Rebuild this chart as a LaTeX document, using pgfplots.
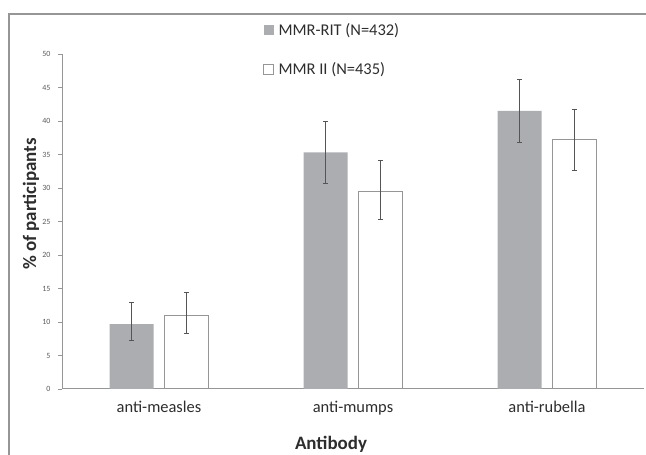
\documentclass[border=0pt]{standalone}
\usepackage{pgfplots}
\pgfplotsset{compat=1.18}
\usepackage{fontspec}
\setmainfont{Carlito}
\definecolor{barg}{RGB}{171,173,176}
\definecolor{framec}{RGB}{150,150,150}
\definecolor{axc}{RGB}{150,150,150}
\definecolor{tickc}{RGB}{90,90,90}
\definecolor{errc}{RGB}{85,85,85}
\definecolor{txt}{RGB}{45,45,45}
\begin{document}
\begin{tikzpicture}[x=1bp,y=1bp]
\path[use as bounding box] (0,0) rectangle (646,455);
\begin{scope}
\clip (0,0) rectangle (646,455);
\draw[framec, line width=1.2bp] (9,-2) -- (9,441) -- (648,441);
\begin{axis}[
  at={(62bp,66bp)}, anchor=south west,
  scale only axis, width=582bp, height=335bp,
  ybar=11bp, bar width=44bp,
  xmin=-0.5, xmax=2.5, ymin=0, ymax=50,
  ytick={0,5,...,50}, xtick={0,1,2},
  xticklabels={anti-measles,anti-mumps,anti-rubella},
  axis x line*=bottom, axis y line*=left,
  axis line style={axc, line width=1bp, -},
  x tick style={draw=none},
  y tick style={axc, line width=0.8bp},
  tick align=outside, major tick length=4bp,
  /pgf/number format/assume math mode=true,
  yticklabel style={font=\fontsize{8}{9}\selectfont, text=tickc, xshift=-4bp},
  xticklabel style={font=\fontsize{16.5}{18}\selectfont, text=txt, yshift=-5bp},
  legend style={draw=none, fill=none, at={(0.34,1.105)}, anchor=north west,
    row sep=22bp, font=\fontsize{16.5}{18}\selectfont, text=txt,
    cells={anchor=west},
    /tikz/every odd column/.append style={column sep=2.5bp}},
  legend image code/.code={\path[#1] (0bp,-5bp) rectangle (10bp,5bp);},
  clip=false,
]
\addplot[fill=barg, draw=none,
  error bars/.cd, y dir=both, y explicit,
  error bar style={errc, line width=0.7bp},
  error mark options={rotate=90, mark size=2.2bp, errc, line width=0.7bp}]
  coordinates {(0,9.7) +=(0,3.2) -=(0,2.5)
               (1,35.3) +=(0,4.65) -=(0,4.6)
               (2,41.5) +=(0,4.7) -=(0,4.7)};
\addlegendentry{MMR-RIT (N=432)}
\addplot[fill=white, draw=axc, line width=1bp,
  error bars/.cd, y dir=both, y explicit,
  error bar style={errc, line width=0.7bp},
  error mark options={rotate=90, mark size=2.2bp, errc, line width=0.7bp}]
  coordinates {(0,11.0) +=(0,3.45) -=(0,2.7)
               (1,29.5) +=(0,4.6) -=(0,4.2)
               (2,37.2) +=(0,4.6) -=(0,4.6)};
\addlegendentry{MMR II (N=435)}
\end{axis}
\node[rotate=90, font=\bfseries\fontsize{19}{22}\selectfont, text=txt] at (31,251) {\% of participants};
\node[anchor=base, font=\bfseries\fontsize{19}{22}\selectfont, text=txt] at (331,5.5) {Antibody};
\end{scope}
\end{tikzpicture}
\end{document}
